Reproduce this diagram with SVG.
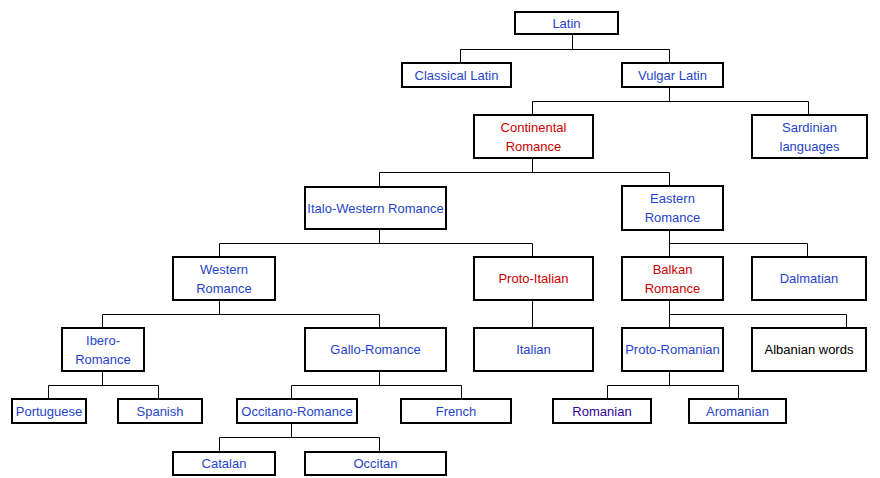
<svg xmlns="http://www.w3.org/2000/svg" width="880" height="478" viewBox="0 0 880 478">
<style>
rect.b{fill:#fff;stroke:#000;stroke-width:2}
text{font-family:"Liberation Sans",Arial,sans-serif;font-size:13px;text-anchor:middle;fill:#1f44cc}
text.r{fill:#cc0000}
text.v{fill:#330099}
text.k{fill:#000}
#connectors path{fill:none;stroke:#000;stroke-width:1}
</style>
<rect width="880" height="478" fill="#fff"/>
<g id="connectors">
<path d="M572.5 35V49.5M460.5 62V49.5H669.5V62"/>
<path d="M669.5 88V101.5M532.5 114V101.5H808.5V114"/>
<path d="M532.5 159V172.5M379.5 186V172.5H669.5V185"/>
<path d="M379.5 230V243.5M219.5 256V243.5H532.5V256"/>
<path d="M669.5 231V256M669.5 243.5H807.5V256"/>
<path d="M219.5 301V314.5M102.5 327V314.5H379.5V327"/>
<path d="M532.5 301V327"/>
<path d="M669.5 301V327M669.5 314.5H846.5V327"/>
<path d="M102.5 372V385.5M48.5 398V385.5H158.5V398"/>
<path d="M379.5 372V385.5M291.5 398V385.5H461.5V398"/>
<path d="M669.5 372V385.5M607.5 398V385.5H738.5V398"/>
<path d="M291.5 424V437.5M219.5 451V437.5H379.5V451"/>
</g>
<g id="latin"><rect class="b" x="515" y="12" width="103" height="22"/><text x="566.5" y="28">Latin</text></g>
<g id="classical-latin"><rect class="b" x="402" y="63" width="109" height="24"/><text x="456.5" y="79.5">Classical Latin</text></g>
<g id="vulgar-latin"><rect class="b" x="622" y="63" width="101" height="24"/><text x="672.5" y="79.5">Vulgar Latin</text></g>
<g id="continental-romance"><rect class="b" x="474" y="115" width="119" height="43"/><text class="r" x="533.5" y="131.5">Continental</text><text class="r" x="533.5" y="150.5">Romance</text></g>
<g id="sardinian"><rect class="b" x="752" y="115" width="115" height="43"/><text x="809.5" y="131.5">Sardinian</text><text x="809.5" y="150.5">languages</text></g>
<g id="italo-western"><rect class="b" x="305" y="187" width="141" height="42"/><text x="375.5" y="212.5">Italo-Western Romance</text></g>
<g id="eastern-romance"><rect class="b" x="622" y="186" width="101" height="44"/><text x="672.5" y="203">Eastern</text><text x="672.5" y="222">Romance</text></g>
<g id="western-romance"><rect class="b" x="173" y="257" width="102" height="43"/><text x="224" y="273.5">Western</text><text x="224" y="292.5">Romance</text></g>
<g id="proto-italian"><rect class="b" x="474" y="257" width="119" height="43"/><text class="r" x="533.5" y="283">Proto-Italian</text></g>
<g id="balkan-romance"><rect class="b" x="622" y="257" width="101" height="43"/><text class="r" x="672.5" y="273.5">Balkan</text><text class="r" x="672.5" y="292.5">Romance</text></g>
<g id="dalmatian"><rect class="b" x="752" y="257" width="114" height="43"/><text x="809" y="283">Dalmatian</text></g>
<g id="ibero-romance"><rect class="b" x="62" y="328" width="82" height="43"/><text x="103" y="344.5">Ibero-</text><text x="103" y="363.5">Romance</text></g>
<g id="gallo-romance"><rect class="b" x="305" y="328" width="141" height="43"/><text x="375.5" y="354">Gallo-Romance</text></g>
<g id="italian"><rect class="b" x="474" y="328" width="119" height="43"/><text x="533.5" y="354">Italian</text></g>
<g id="proto-romanian"><rect class="b" x="622" y="328" width="101" height="43"/><text x="672.5" y="354">Proto-Romanian</text></g>
<g id="albanian-words"><rect class="b" x="752" y="328" width="114" height="43"/><text class="k" x="809" y="354">Albanian words</text></g>
<g id="portuguese"><rect class="b" x="12" y="399" width="74" height="24"/><text x="49" y="415.5">Portuguese</text></g>
<g id="spanish"><rect class="b" x="118" y="399" width="84" height="24"/><text x="160" y="415.5">Spanish</text></g>
<g id="occitano-romance"><rect class="b" x="237" y="399" width="120" height="24"/><text x="297" y="415.5">Occitano-Romance</text></g>
<g id="french"><rect class="b" x="401" y="399" width="110" height="24"/><text x="456" y="415.5">French</text></g>
<g id="romanian"><rect class="b" x="553" y="399" width="98" height="24"/><text class="v" x="602" y="415.5">Romanian</text></g>
<g id="aromanian"><rect class="b" x="689" y="399" width="97" height="24"/><text x="737.5" y="415.5">Aromanian</text></g>
<g id="catalan"><rect class="b" x="173" y="452" width="102" height="23"/><text x="224" y="468">Catalan</text></g>
<g id="occitan"><rect class="b" x="305" y="452" width="141" height="23"/><text x="375.5" y="468">Occitan</text></g>
</svg>
